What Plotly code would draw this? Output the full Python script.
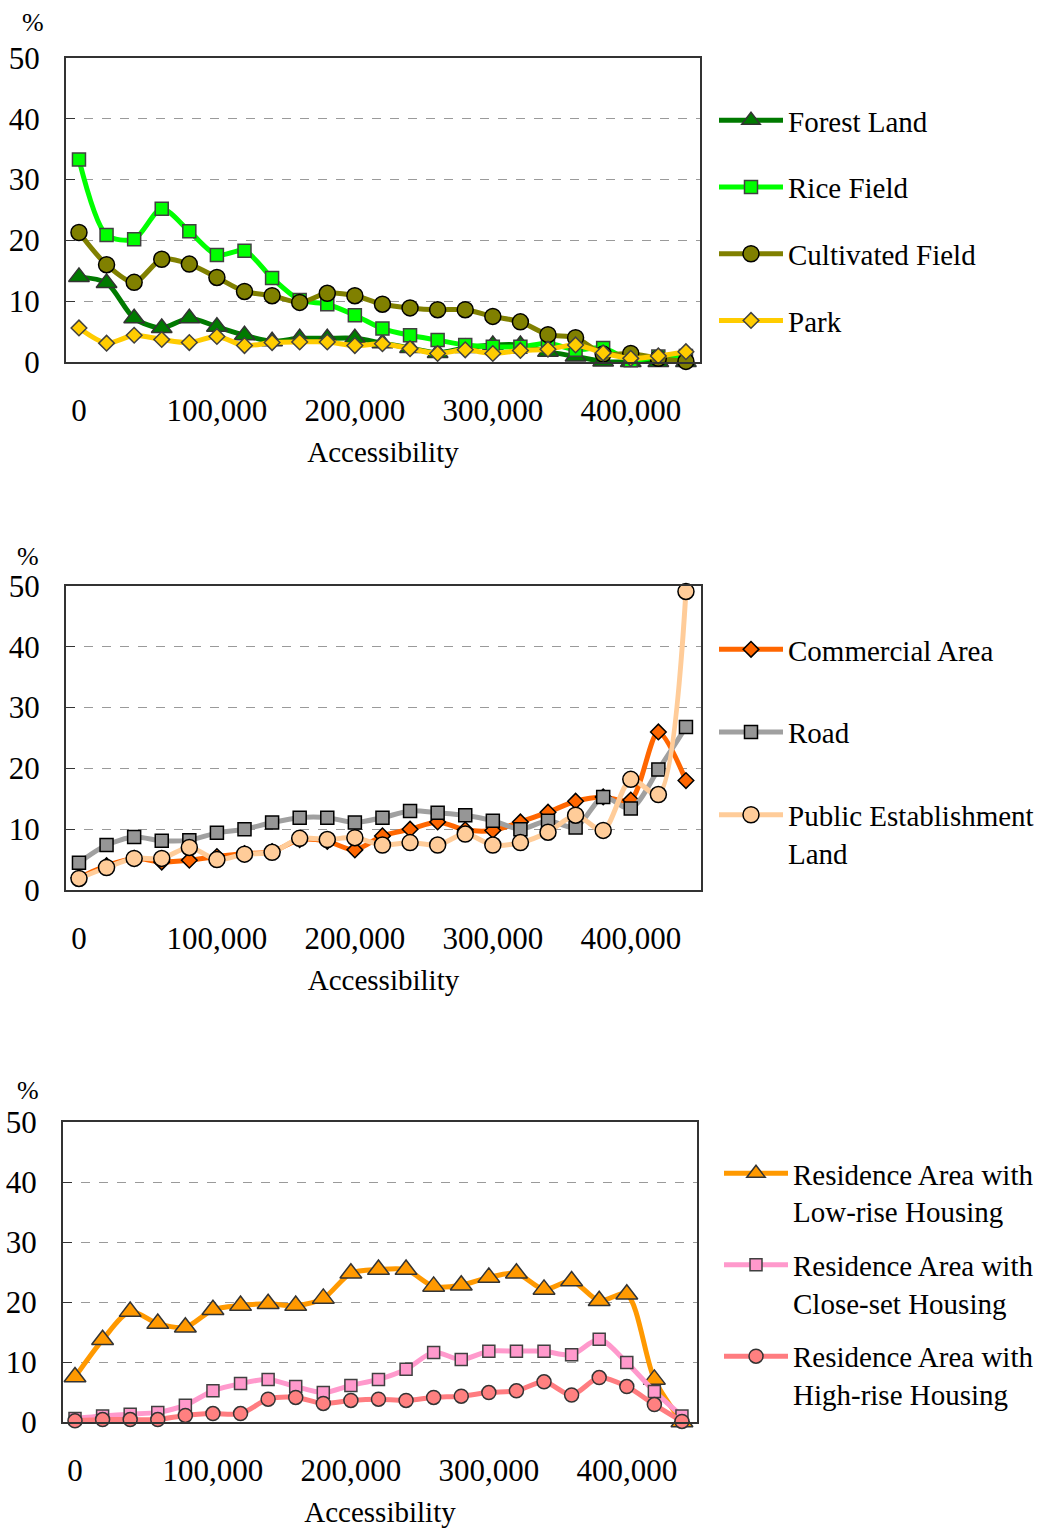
import plotly.graph_objects as go

# Accessibility classes (x positions shared by all three panels)
access = [0, 20000, 40000, 60000, 80000, 100000, 120000, 140000, 160000, 180000,
          200000, 220000, 240000, 260000, 280000, 300000, 320000, 340000, 360000,
          380000, 400000, 420000, 440000]

# Panel 1: natural / agricultural land use (%)
forest = [14.0, 13.0, 7.2, 5.6, 7.2, 5.8, 4.4, 3.4, 3.9, 3.9, 3.9, 3.1, 2.3, 1.5,
          2.3, 2.8, 2.8, 1.7, 0.9, 0.1, 0.0, 0.0, 0.0]
rice = [33.3, 20.9, 20.2, 25.2, 21.5, 17.6, 18.3, 13.8, 10.2, 9.5, 7.7, 5.5, 4.4,
        3.6, 2.8, 2.5, 2.5, 3.1, 2.0, 2.3, 0.3, 0.9, 1.0]
cultivated = [21.3, 16.0, 13.1, 16.9, 16.1, 13.9, 11.6, 10.9, 9.8, 11.3, 10.9, 9.5,
              8.9, 8.6, 8.6, 7.5, 6.6, 4.5, 4.0, 1.3, 1.4, 0.6, 0.1]
park = [5.6, 3.1, 4.4, 3.7, 3.2, 4.2, 2.7, 3.2, 3.3, 3.3, 2.7, 3.0, 2.2, 1.4, 2.0,
        1.4, 1.9, 2.1, 2.8, 1.5, 0.6, 1.0, 1.7]

# Panel 2: urban facilities (%)
commercial = [2.0, 4.0, 5.2, 4.6, 4.9, 5.5, 6.0, 6.3, 8.3, 8.0, 6.6, 8.9, 10.0, 11.2,
              9.9, 9.8, 11.2, 12.8, 14.6, 15.3, 14.8, 26.0, 18.0]
road = [4.5, 7.4, 8.7, 8.1, 8.2, 9.4, 10.0, 11.1, 11.9, 11.9, 11.1, 11.9, 13.0, 12.7,
        12.3, 11.4, 10.0, 11.4, 10.3, 15.3, 13.4, 19.8, 26.8]
public = [1.9, 3.7, 5.2, 5.2, 7.0, 5.0, 5.9, 6.2, 8.5, 8.3, 8.6, 7.4, 7.8, 7.4, 9.2,
          7.4, 7.8, 9.5, 12.3, 9.8, 18.2, 15.7, 49.1]

# Panel 3: residential areas (%)
low_rise = [7.5, 13.7, 18.4, 16.4, 15.8, 18.7, 19.4, 19.7, 19.4, 20.6, 24.8, 25.4,
            25.4, 22.6, 22.8, 24.1, 24.8, 22.1, 23.5, 20.2, 21.3, 7.1, 0.0]
close_set = [0.6, 1.0, 1.3, 1.6, 2.8, 5.2, 6.4, 7.1, 5.9, 4.9, 6.1, 7.1, 8.8, 11.6,
             10.4, 11.8, 11.8, 11.8, 11.2, 13.8, 9.9, 5.1, 1.0]
high_rise = [0.2, 0.4, 0.4, 0.4, 1.1, 1.4, 1.4, 3.8, 4.1, 3.1, 3.6, 3.8, 3.6, 4.1,
             4.3, 4.9, 5.2, 6.7, 4.5, 7.4, 5.9, 2.9, 0.1]

x_ticks = [0, 100000, 200000, 300000, 400000]
y_ticks = [0, 10, 20, 30, 40, 50]

W, H = 1050, 1528
FONT = "Liberation Serif, Times New Roman, serif"

panels = [
    # (xaxis, yaxis, legend, series)
    ("x", "y", "legend", [
        ("Forest Land", forest, "#007A00", "#007A00", "triangle-up", 18, "#333333"),
        ("Rice Field", rice, "#00FF00", "#00FF00", "square", 13, "#404040"),
        ("Cultivated Field", cultivated, "#808000", "#808000", "circle", 16, "#000000"),
        ("Park", park, "#FFCC00", "#FFCC00", "diamond", 12, "#404040"),
    ]),
    ("x2", "y2", "legend2", [
        ("Commercial Area", commercial, "#FF6600", "#FF6600", "diamond", 12, "#000000"),
        ("Road", road, "#A0A0A0", "#969696", "square", 13, "#000000"),
        ("Public Establishment<br>Land", public, "#FFCC99", "#FFCC99", "circle", 16, "#000000"),
    ]),
    ("x3", "y3", "legend3", [
        ("Residence Area with<br>Low-rise Housing", low_rise, "#FF9900", "#FF9900",
         "triangle-up", 19, "#333333"),
        ("Residence Area with<br>Close-set Housing", close_set, "#FF99CC", "#FF99CC",
         "square", 12, "#404040"),
        ("Residence Area with<br>High-rise Housing", high_rise, "#FF7C80", "#FF8080",
         "circle", 14, "#333333"),
    ]),
]

fig = go.Figure()
for xa, ya, leg, series in panels:
    for name, vals, lcol, mcol, sym, size, edge in series:
        fig.add_trace(go.Scatter(
            x=access, y=vals, name=name, mode="lines+markers",
            xaxis=xa, yaxis=ya, legend=leg, legendgroup=name,
            line=dict(color=lcol, width=5, shape="spline", smoothing=0.8),
            marker=dict(symbol=sym, size=size, color=mcol,
                        line=dict(color=edge, width=1.5)),
            cliponaxis=False,
        ))


def px_x(p):
    return p / W


def px_y(p):
    return 1 - p / H


# plot-area boxes in pixels: left, right, top, bottom
boxes = [(66, 700, 58, 362), (66, 701, 586, 890), (63, 697, 1122, 1422)]
x_ranges = [[-9400, 450200], [-9400, 450900], [-8700, 450900]]

axis_common_x = dict(
    tickvals=x_ticks, tickformat=",d", showgrid=False, zeroline=False,
    showline=True, linecolor="#333333", linewidth=2, mirror=True,
    ticks="outside", ticklen=20, tickcolor="rgba(0,0,0,0)", automargin=False,
    tickfont=dict(family=FONT, size=31, color="#000"),
    title=dict(text="Accessibility", font=dict(family=FONT, size=29, color="#000"),
               standoff=14),
)
axis_common_y = dict(
    range=[0, 50], tickvals=y_ticks, zeroline=False, automargin=False,
    showgrid=True, gridcolor="#9A9A9A", griddash="dash", gridwidth=1,
    showline=True, linecolor="#333333", linewidth=2, mirror=True,
    ticks="inside", ticklen=9, tickcolor="#333333", ticklabelstandoff=18,
    tickfont=dict(family=FONT, size=31, color="#000"),
)

layout = dict(
    width=W, height=H, margin=dict(l=0, r=0, t=0, b=0, autoexpand=False),
    paper_bgcolor="white", plot_bgcolor="white",
    font=dict(family=FONT, color="#000"),
    annotations=[],
)
for i, ((l, r, t, b), xr) in enumerate(zip(boxes, x_ranges)):
    sfx = "" if i == 0 else str(i + 1)
    layout["xaxis" + sfx] = dict(axis_common_x, domain=[px_x(l), px_x(r)], range=xr,
                                 anchor="y" + sfx)
    layout["yaxis" + sfx] = dict(axis_common_y, domain=[px_y(b), px_y(t)],
                                 anchor="x" + sfx)

# "%" unit labels above each y axis
for (ux, uy) in [(33, 22), (28, 556), (28, 1090)]:
    layout["annotations"].append(dict(
        text="%", x=px_x(ux), y=px_y(uy), xref="paper", yref="paper",
        showarrow=False, font=dict(family=FONT, size=26, color="#000"),
        xanchor="center", yanchor="middle"))

legend_common = dict(
    xanchor="left", yanchor="top", bgcolor="rgba(0,0,0,0)",
    font=dict(family=FONT, size=29, color="#000"),
    itemwidth=64, traceorder="grouped", valign="top",
)
layout["legend"] = dict(legend_common, x=px_x(714), y=px_y(95), tracegroupgap=26)
layout["legend2"] = dict(legend_common, x=px_x(714), y=px_y(624), tracegroupgap=42)
layout["legend3"] = dict(legend_common, x=px_x(719), y=px_y(1148), tracegroupgap=13)
layout["showlegend"] = True

fig.update_layout(**layout)
fig.write_html("out.html")
